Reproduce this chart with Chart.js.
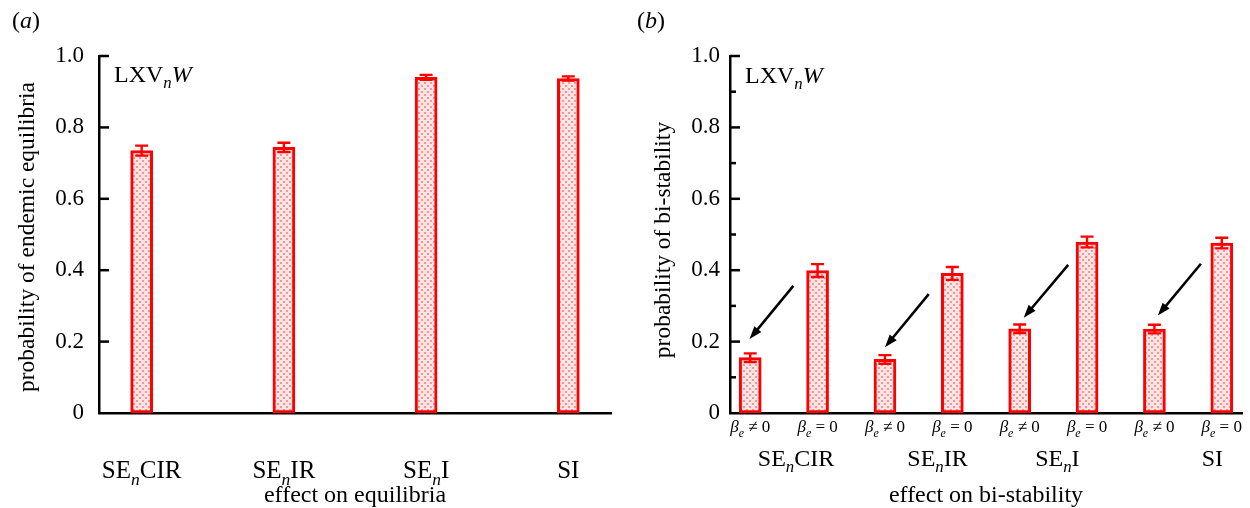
<!DOCTYPE html>
<html>
<head>
<meta charset="utf-8">
<script src="https://cdn.jsdelivr.net/npm/chart.js"></script>
<style>
  html, body { margin: 0; padding: 0; background: #fff; }
  #wrap { position: relative; width: 1250px; height: 508px; }
  canvas { position: absolute; top: 0; }
</style>
</head>
<body>
<div id="wrap">
  <canvas id="chartA" width="625" height="508" style="left:0"></canvas>
  <canvas id="chartB" width="625" height="508" style="left:625px"></canvas>
</div>
<script>
// ---- data (a) ----
const catsA = ['SE_nCIR', 'SE_nIR', 'SE_nI', 'SI'];
const valuesA = [0.735, 0.744, 0.940, 0.937];
const errA = [0.014, 0.013, 0.007, 0.006];

// ---- data (b) ----
const groupsB = ['SE_nCIR', 'SE_nIR', 'SE_nI', 'SI'];
const subLabelsB = ['*β*_e ≠ 0', '*β*_e = 0', '*β*_e ≠ 0', '*β*_e = 0',
                    '*β*_e ≠ 0', '*β*_e = 0', '*β*_e ≠ 0', '*β*_e = 0'];
const valuesB = [0.155, 0.399, 0.150, 0.391, 0.236, 0.479, 0.235, 0.476];
const errB = [0.012, 0.018, 0.012, 0.018, 0.012, 0.015, 0.012, 0.015];
// arrows in data units: [x, y] start and tip
const arrowFromB = [[0.64, 0.356], [2.65, 0.333], [4.72, 0.415], [6.69, 0.418]];
const arrowToB = [[-0.01, 0.207], [2.0, 0.184], [4.06, 0.267], [6.05, 0.273]];

const yTickLabels = ['0', '0.2', '0.4', '0.6', '0.8', '1.0'];

// layout bits
const groupPosB = [0.68, 2.78, 4.56, 6.86];
const FONT = '"Liberation Serif", "Times New Roman", serif';
const RED = '#ff0000';

function dotPattern() {
  const c = document.createElement('canvas');
  c.width = 6; c.height = 6;
  const g = c.getContext('2d');
  g.fillStyle = '#fce4e4';
  g.fillRect(0, 0, 6, 6);
  g.fillStyle = '#f59595';
  g.fillRect(1, 1, 2, 2);
  g.fillRect(4, 4, 2, 2);
  return g.createPattern(c, 'repeat');
}

// '_x' -> italic subscript char, '*' toggles italic
function parseRich(str, size) {
  const parts = [];
  let italic = false;
  for (let i = 0; i < str.length; i++) {
    const ch = str[i];
    if (ch === '*') { italic = !italic; continue; }
    if (ch === '_') {
      parts.push({ t: str[i + 1], size: size * 0.7, italic: true, dy: size * 0.27 });
      i++;
      continue;
    }
    const last = parts[parts.length - 1];
    if (last && !last.dy && last.italic === italic) last.t += ch;
    else parts.push({ t: ch, size: size, italic: italic, dy: 0 });
  }
  return parts;
}

function drawRich(ctx, str, size, x, y, align) {
  const parts = parseRich(str, size);
  let total = 0;
  parts.forEach(p => {
    ctx.font = (p.italic ? 'italic ' : '') + p.size + 'px ' + FONT;
    p.w = ctx.measureText(p.t).width;
    total += p.w;
  });
  let cx = align === 'center' ? x - total / 2 : x;
  ctx.textAlign = 'left';
  ctx.textBaseline = 'alphabetic';
  ctx.fillStyle = '#000';
  parts.forEach(p => {
    ctx.font = (p.italic ? 'italic ' : '') + p.size + 'px ' + FONT;
    ctx.fillText(p.t, cx, y + p.dy);
    cx += p.w;
  });
}

function drawArrow(ctx, x1, y1, x2, y2) {
  const ang = Math.atan2(y2 - y1, x2 - x1);
  const L = 13, W = 4.5;
  const bx = x2 - L * Math.cos(ang), by = y2 - L * Math.sin(ang);
  ctx.strokeStyle = '#000';
  ctx.lineWidth = 2.5;
  ctx.beginPath();
  ctx.moveTo(x1, y1);
  ctx.lineTo(bx + 2 * Math.cos(ang), by + 2 * Math.sin(ang));
  ctx.stroke();
  ctx.fillStyle = '#000';
  ctx.beginPath();
  ctx.moveTo(x2, y2);
  ctx.lineTo(bx - W * Math.sin(ang), by + W * Math.cos(ang));
  ctx.lineTo(bx + W * Math.sin(ang), by - W * Math.cos(ang));
  ctx.closePath();
  ctx.fill();
}

// error bars, inward ticks and all the text
const extrasPlugin = {
  id: 'extras',
  afterDraw(chart, args, o) {
    const ctx = chart.ctx;
    const xs = chart.scales.x, ys = chart.scales.y;
    const area = chart.chartArea;
    ctx.save();

    // inward y ticks
    ctx.strokeStyle = '#000';
    ctx.lineWidth = 2.5;
    ys.ticks.forEach(t => {
      const k = Math.round(t.value * 10);
      if (k === 0) return;
      const len = k % 2 === 0 ? 10 : 6;
      const y = ys.getPixelForValue(t.value);
      ctx.beginPath();
      ctx.moveTo(area.left, y);
      ctx.lineTo(area.left + len, y);
      ctx.stroke();
    });

    // error bars
    const meta = chart.getDatasetMeta(0);
    ctx.strokeStyle = RED;
    ctx.lineWidth = 2.4;
    meta.data.forEach((bar, i) => {
      const v = o.values[i], e = o.errors[i];
      const yt = ys.getPixelForValue(v + e), yb = ys.getPixelForValue(v - e);
      ctx.beginPath();
      ctx.moveTo(bar.x, yt); ctx.lineTo(bar.x, yb);
      ctx.moveTo(bar.x - 6.5, yt); ctx.lineTo(bar.x + 6.5, yt);
      ctx.moveTo(bar.x - 6.5, yb); ctx.lineTo(bar.x + 6.5, yb);
      ctx.stroke();
    });

    // arrows
    (o.arrowsFrom || []).forEach((f, i) => {
      const t = o.arrowsTo[i];
      drawArrow(ctx, xs.getPixelForValue(f[0]), ys.getPixelForValue(f[1]),
                xs.getPixelForValue(t[0]), ys.getPixelForValue(t[1]));
    });

    // category labels
    o.labels.forEach((lab, i) => {
      drawRich(ctx, lab, o.labelSize, xs.getPixelForValue(o.labelPos[i]), o.labelY, 'center');
    });
    (o.subLabels || []).forEach((lab, i) => {
      drawRich(ctx, lab, 17, xs.getPixelForValue(i), 432, 'center');
    });

    // panel letter, model name, axis titles
    drawRich(ctx, '(*' + o.letter + '*)', 24, 12, 28, 'left');
    drawRich(ctx, 'LXV_n*W*', 24, area.left + 15, o.modelY, 'left');
    drawRich(ctx, o.xTitle, 24, (area.left + area.right) / 2, 502, 'center');
    ctx.save();
    ctx.translate(o.yTitleX, o.yTitleY);
    ctx.rotate(-Math.PI / 2);
    drawRich(ctx, o.yTitle, 23.5, 0, 8, 'center');
    ctx.restore();

    ctx.restore();
  }
};

function makePanel(id, p) {
  return new Chart(document.getElementById(id), {
    type: 'bar',
    data: {
      datasets: [{
        data: p.values.map((v, i) => ({ x: i, y: v })),
        backgroundColor: dotPattern(),
        borderColor: RED,
        borderWidth: 3,
        borderSkipped: false,
        barThickness: 22
      }]
    },
    plugins: [extrasPlugin],
    options: {
      responsive: false,
      animation: false,
      layout: { padding: { top: 56, right: p.rightPad, left: 0, bottom: 0 } },
      plugins: {
        legend: { display: false },
        tooltip: { enabled: false },
        extras: p.extras
      },
      scales: {
        x: {
          type: 'linear',
          min: -0.3,
          max: p.xMax,
          offset: false,
          z: 1,
          grid: { display: false },
          border: { color: '#000', width: 2.5 },
          ticks: { display: false },
          afterFit: s => { s.height = 95; }
        },
        y: {
          min: 0,
          max: 1,
          grid: { display: false, drawTicks: false },
          border: { color: '#000', width: 2.5 },
          ticks: {
            stepSize: p.yStep,
            autoSkip: false,
            padding: p.tickPad,
            color: '#000',
            font: { family: FONT, size: 23 },
            callback: v => {
              const k = Math.round(v * 10);
              return k % 2 === 0 ? yTickLabels[k / 2] : '';
            }
          },
          afterFit: s => { s.width = p.yWidth; }
        }
      }
    }
  });
}

makePanel('chartA', {
  values: valuesA, xMax: 3.3, rightPad: 14, yWidth: 99, yStep: 0.2, tickPad: 15,
  extras: {
    values: valuesA, errors: errA, labels: catsA, labelPos: catsA.map((c, i) => i),
    labelSize: 25, labelY: 478, letter: 'a', modelY: 82,
    xTitle: 'effect on equilibria', yTitle: 'probability of endemic equilibria',
    yTitleX: 26, yTitleY: 237
  }
});

makePanel('chartB', {
  values: valuesB, xMax: 7.3, rightPad: 8, yWidth: 105, yStep: 0.1, tickPad: 10,
  extras: {
    values: valuesB, errors: errB, labels: groupsB, labelPos: groupPosB,
    labelSize: 24, labelY: 466, letter: 'b', modelY: 83, subLabels: subLabelsB,
    arrowsFrom: arrowFromB, arrowsTo: arrowToB,
    xTitle: 'effect on bi-stability', yTitle: 'probability of bi-stability',
    yTitleX: 37, yTitleY: 240
  }
});
</script>
</body>
</html>
